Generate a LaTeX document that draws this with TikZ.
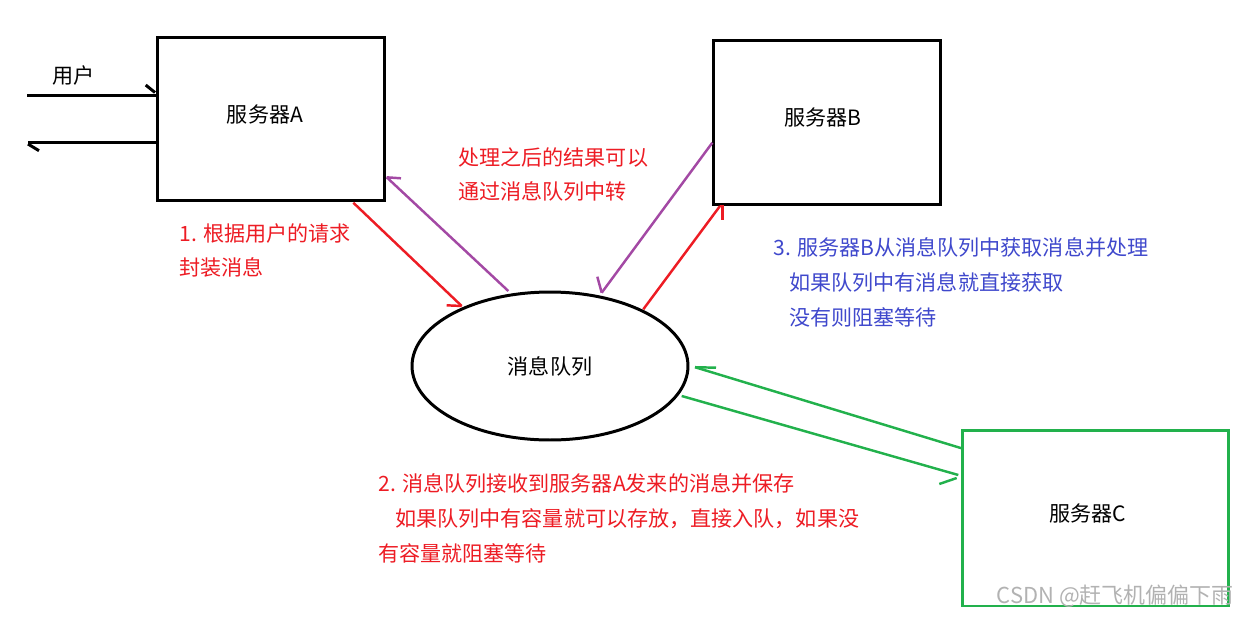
\documentclass[tikz,border=0pt]{standalone}
\usepackage{fontspec}
\setmainfont{Noto Sans CJK SC}
\usetikzlibrary{shapes.geometric}
\definecolor{pred}{RGB}{237,28,36}
\definecolor{ppur}{RGB}{163,73,164}
\definecolor{pgrn}{RGB}{34,177,76}
\definecolor{pblu}{RGB}{63,72,204}
\begin{document}
\begin{tikzpicture}[x=0.02cm,y=-0.02cm,
  box/.style={draw=black,line width=1.7pt,minimum width=4.56cm,minimum height=3.28cm,inner sep=0pt},
  gbox/.style={box,draw=pgrn,minimum width=5.34cm,minimum height=3.52cm},
  queue/.style={draw=black,line width=1.7pt,ellipse,minimum width=5.52cm,minimum height=2.96cm},
  blk/.style={draw=black,line width=1.7pt},
  redl/.style={draw=pred,line width=1.4pt},
  purl/.style={draw=ppur,line width=1.4pt},
  grnl/.style={draw=pgrn,line width=1.4pt},
  txt/.style={inner sep=0pt,font=\fontsize{12}{14}\selectfont},
  lbl/.style={txt,anchor=west},
]
\useasboundingbox (0,0) rectangle (1240,616);
% boxes
\node[box] (A) at (271,119) {};
\node[txt] (Alab) at (265,114) {服务器A};
\node[box] (B) at (827,122.5) {};
\node[txt] (Blab) at (823,117) {服务器B};
\node[gbox] (C) at (1095.5,518) {};
\node[txt] (Clab) at (1088,513) {服务器C};
\node[queue] (Q) at (550,366) {};
\node[txt] (Qlab) at (550,366) {消息队列};
% user lines
\coordinate (u1s) at (27,95.5);
\coordinate (u1e) at (157,95.5);
\coordinate (u1b) at (145.7,85);
\draw[blk] (u1s) -- (u1e);
\draw[blk] (u1b) -- (155,92.5);
\coordinate (u2s) at (157,142.7);
\coordinate (u2e) at (28,142.7);
\draw[blk] (u2s) -- (u2e);
\draw[blk] (u2e) ++(0,1.3) -- ++(11,6.7);
\node[lbl] (user) at (52,75) {用户};
% A -> Q (red)
\coordinate (r1s) at (353.3,202.7);
\coordinate (r1e) at (461.7,306);
\draw[redl] (r1s) -- (r1e);
\draw[redl] (446.7,305.3) -- (r1e);
% Q -> A (purple)
\coordinate (p1s) at (508.3,291);
\coordinate (p1e) at (386.7,177.3);
\draw[purl] (p1s) -- (p1e);
\draw[purl] (p1e) -- (401,178.3);
% B -> Q (purple)
\coordinate (p2s) at (712.3,142.7);
\coordinate (p2e) at (601.7,292.7);
\draw[purl] (p2s) -- (p2e);
\draw[purl] (597.3,276.7) -- (p2e);
% Q -> B (red)
\coordinate (r2s) at (643.3,309.3);
\coordinate (r2e) at (720,206);
\draw[redl] (r2s) -- (r2e);
\draw[redl] (r2e) -- (722.7,206) -- (722.7,220);
% C -> Q (green)
\coordinate (g1s) at (961.7,448.3);
\coordinate (g1e) at (695,367.2);
\draw[grnl] (g1s) -- (g1e);
\draw[grnl] (g1e) -- (716,367.7);
% Q -> C (green)
\coordinate (g2s) at (681.7,396);
\coordinate (g2e) at (958.3,475);
\draw[grnl] (g2s) -- (g2e);
\draw[grnl] (939.3,484) -- (956.7,478);
% labels
\node[lbl,text=pred] (t1a) at (458,157) {处理之后的结果可以};
\node[lbl,text=pred] (t1b) at (458,191) {通过消息队列中转};
\node[lbl,text=pred] (t2a) at (179,233) {1. 根据用户的请求};
\node[lbl,text=pred] (t2b) at (179,267) {封装消息};
\node[lbl,text=pblu] (t3a) at (773,247) {3. 服务器B从消息队列中获取消息并处理};
\node[lbl,text=pblu] (t3b) at (789,282) {如果队列中有消息就直接获取};
\node[lbl,text=pblu] (t3c) at (789,317) {没有则阻塞等待};
\node[lbl,text=pred] (t4a) at (378,483) {2. 消息队列接收到服务器A发来的消息并保存};
\node[lbl,text=pred] (t4b) at (395,519) {如果队列中有容量就可以存放，直接入队，如果没};
\node[lbl,text=pred] (t4c) at (378,553) {有容量就阻塞等待};
\node[txt,anchor=east,text=black!30,font=\fontsize{12.5}{15}\selectfont] (wm) at (1234,596) {CSDN @赶飞机偏偏下雨};
\end{tikzpicture}
\end{document}
